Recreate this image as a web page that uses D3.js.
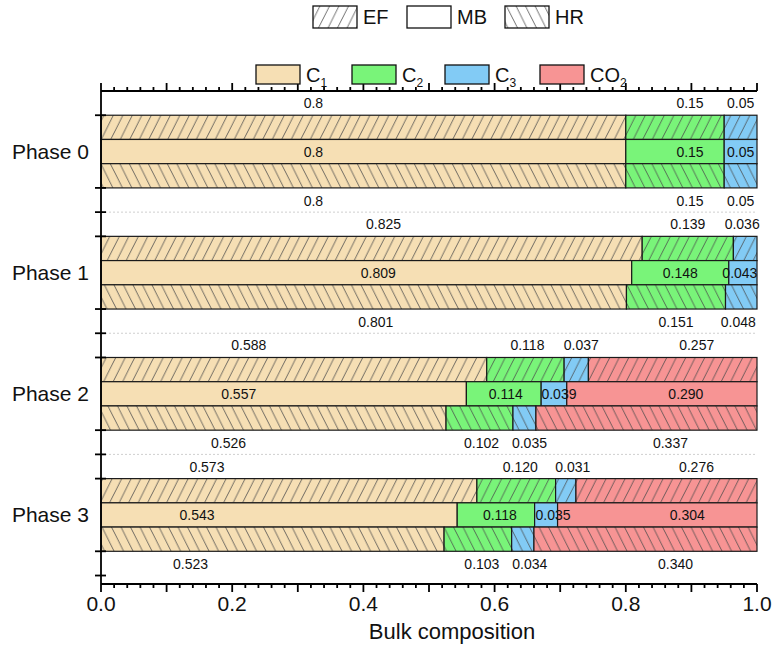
<!DOCTYPE html>
<html>
<head>
<meta charset="utf-8">
<script src="https://cdn.jsdelivr.net/npm/d3@7"></script>
<style>
  html, body { margin: 0; padding: 0; background: #fff; }
  svg { display: block; font-family: "Liberation Sans", Arial, sans-serif; }
</style>
</head>
<body>
<svg id="chart" width="774" height="648"></svg>
<script>
// ---- data ----
const phases = ["Phase 0", "Phase 1", "Phase 2", "Phase 3"];
const methods = ["EF", "MB", "HR"];
const species = ["C1", "C2", "C3", "CO2"];
// fractions per phase, in species order C1, C2, C3, CO2
const efValues = [
  [0.8, 0.15, 0.05, 0],
  [0.825, 0.139, 0.036, 0],
  [0.588, 0.118, 0.037, 0.257],
  [0.573, 0.120, 0.031, 0.276]
];
const mbValues = [
  [0.8, 0.15, 0.05, 0],
  [0.809, 0.148, 0.043, 0],
  [0.557, 0.114, 0.039, 0.290],
  [0.543, 0.118, 0.035, 0.304]
];
const hrValues = [
  [0.8, 0.15, 0.05, 0],
  [0.801, 0.151, 0.048, 0],
  [0.526, 0.102, 0.035, 0.337],
  [0.523, 0.103, 0.034, 0.340]
];
const xTickLabels = ["0.0", "0.2", "0.4", "0.6", "0.8", "1.0"];

// ---- styles / layout ----
const colors = { C1: "#F6DFB4", C2: "#79F479", C3: "#82CBF5", CO2: "#F79494" };
const hatchStroke = "#4a4a4a";
const axisColor = "#000";
const axisWidth = 1.8;
// horizontal label nudges in px, [phase][species]
const labelDx = [
  [-50, 15, 0, 0],
  [12, 0, -3, 0],
  [-45, 2, 5, 24],
  [-82, 4, 7, 30]
];

const svg = d3.select("#chart");
const x = d3.scaleLinear().domain([0, 1]).range([101, 757]);
const y = d3.scaleLinear().domain([-0.5, 3.57]).range([91, 584]);
const barH = 0.2;

// ---- hatch patterns ----
const defs = svg.append("defs");
function hatch(id, fill, dir) {
  const W = 9.5, H = 19;
  const p = defs.append("pattern").attr("id", id)
    .attr("patternUnits", "userSpaceOnUse")
    .attr("width", W).attr("height", H);
  p.append("rect").attr("width", W).attr("height", H).attr("fill", fill);
  const segs = dir === "EF"
    ? [[0, H, W, 0], [-W, H, 0, 0], [W, H, 2 * W, 0]]
    : [[0, 0, W, H], [-W, 0, 0, H], [W, 0, 2 * W, H]];
  segs.forEach(s => p.append("line")
    .attr("x1", s[0]).attr("y1", s[1]).attr("x2", s[2]).attr("y2", s[3])
    .attr("stroke", hatchStroke).attr("stroke-width", 0.8));
}
species.forEach(s => { hatch("EF-" + s, colors[s], "EF"); hatch("HR-" + s, colors[s], "HR"); });
hatch("EF-legend", "#fff", "EF");
hatch("HR-legend", "#fff", "HR");

function fillFor(method, sp) {
  if (method === "MB") return colors[sp];
  return "url(#" + method + "-" + sp + ")";
}

// ---- phase separators ----
svg.append("g").selectAll("line").data([0.5, 1.5, 2.5]).join("line")
  .attr("x1", x(0)).attr("x2", x(1))
  .attr("y1", d => y(d)).attr("y2", d => y(d))
  .attr("stroke", "#cfcfcf").attr("stroke-width", 1)
  .attr("stroke-dasharray", "2,2");

// ---- bars ----
const methodValues = { EF: efValues, MB: mbValues, HR: hrValues };
const segments = [];
phases.forEach((ph, i) => {
  methods.forEach((m, j) => {
    let acc = 0;
    methodValues[m][i].forEach((v, k) => {
      if (v > 0) {
        segments.push({ phase: i, method: m, row: j, sp: species[k], x0: acc, v: v });
      }
      acc += v;
    });
  });
});

svg.append("g").selectAll("rect").data(segments).join("rect")
  .attr("x", d => x(d.x0))
  .attr("width", d => x(d.x0 + d.v) - x(d.x0))
  .attr("y", d => y(d.phase - 0.3 + d.row * barH))
  .attr("height", d => y(barH) - y(0))
  .attr("fill", d => fillFor(d.method, d.sp))
  .attr("stroke", "#1a1a1a").attr("stroke-width", 1.2);

// ---- value labels ----
function fmt(phase, v) { return phase === 0 ? String(v) : v.toFixed(3); }
svg.append("g").selectAll("text").data(segments).join("text")
  .attr("x", d => x(d.x0 + d.v / 2) + labelDx[d.phase][species.indexOf(d.sp)])
  .attr("y", d => {
    if (d.method === "EF") return y(d.phase - 0.3) - 12;
    if (d.method === "HR") return y(d.phase + 0.3) + 13;
    return y(d.phase);
  })
  .attr("text-anchor", "middle").attr("dominant-baseline", "central")
  .attr("font-size", 14).attr("fill", "#111")
  .text(d => fmt(d.phase, d.v));

// ---- axes ----
const majors = d3.range(0, 11).map(i => i / 10);
const minors = d3.range(0, 51).filter(i => i % 5 !== 0).map(i => i / 50);

// horizontal axis line with outward ticks (dir = -1 up, +1 down)
function hAxis(yPos, dir) {
  const g = svg.append("g");
  g.append("line").attr("x1", x(0)).attr("x2", x(1))
    .attr("y1", yPos).attr("y2", yPos)
    .attr("stroke", axisColor).attr("stroke-width", axisWidth);
  g.selectAll("line.major").data(majors).join("line").attr("class", "major")
    .attr("x1", d => x(d)).attr("x2", d => x(d))
    .attr("y1", yPos).attr("y2", yPos + dir * 8)
    .attr("stroke", axisColor).attr("stroke-width", axisWidth);
  g.selectAll("line.minor").data(minors).join("line").attr("class", "minor")
    .attr("x1", d => x(d)).attr("x2", d => x(d))
    .attr("y1", yPos).attr("y2", yPos + dir * 4)
    .attr("stroke", axisColor).attr("stroke-width", axisWidth);
  return g;
}

const topY = y(-0.5);
const bottomY = y(3.57);
hAxis(topY, -1);
const bottomAxis = hAxis(bottomY, 1);
bottomAxis.selectAll("text").data(xTickLabels).join("text")
  .attr("x", (d, i) => x(i * 0.2)).attr("y", bottomY + 19)
  .attr("text-anchor", "middle").attr("dominant-baseline", "central")
  .attr("font-size", 21).attr("fill", "#111")
  .text(d => d);

// left
const yTicks = [];
phases.forEach((p, i) => { yTicks.push(i - 0.3, i + 0.3, i + 0.5); });
const leftG = svg.append("g");
leftG.append("line").attr("x1", x(0)).attr("x2", x(0))
  .attr("y1", topY).attr("y2", bottomY)
  .attr("stroke", axisColor).attr("stroke-width", axisWidth);
leftG.selectAll("line.tick").data(yTicks).join("line").attr("class", "tick")
  .attr("x1", x(0) - 6).attr("x2", x(0) + 5)
  .attr("y1", d => y(d)).attr("y2", d => y(d))
  .attr("stroke", axisColor).attr("stroke-width", axisWidth);

// phase labels
svg.append("g").selectAll("text").data(phases).join("text")
  .attr("x", 89).attr("y", (d, i) => y(i))
  .attr("text-anchor", "end").attr("dominant-baseline", "central")
  .attr("font-size", 21).attr("fill", "#111")
  .text(d => d);

// axis title
svg.append("text")
  .attr("x", 452).attr("y", 639)
  .attr("text-anchor", "middle").attr("font-size", 22).attr("fill", "#111")
  .text("Bulk composition");

// ---- legends ----
const legend1 = svg.append("g");
const methodLegend = [
  { key: "EF", bx: 313, fill: "url(#EF-legend)" },
  { key: "MB", bx: 407, fill: "#fff" },
  { key: "HR", bx: 505, fill: "url(#HR-legend)" }
];
methodLegend.forEach(d => {
  legend1.append("rect").attr("x", d.bx).attr("y", 6).attr("width", 44).attr("height", 22)
    .attr("fill", d.fill).attr("stroke", "#111").attr("stroke-width", 1.3);
  legend1.append("text").attr("x", d.bx + 50).attr("y", 17)
    .attr("dominant-baseline", "central").attr("font-size", 20).attr("fill", "#111")
    .text(d.key);
});

const legend2 = svg.append("g");
const speciesLegend = [
  { sp: "C1", base: "C", sub: "1", bx: 256 },
  { sp: "C2", base: "C", sub: "2", bx: 352 },
  { sp: "C3", base: "C", sub: "3", bx: 445 },
  { sp: "CO2", base: "CO", sub: "2", bx: 540 }
];
speciesLegend.forEach(d => {
  legend2.append("rect").attr("x", d.bx).attr("y", 65).attr("width", 44).attr("height", 19)
    .attr("fill", colors[d.sp]).attr("stroke", "#111").attr("stroke-width", 1.3);
  const t = legend2.append("text").attr("x", d.bx + 50).attr("y", 82)
    .attr("font-size", 20).attr("fill", "#111");
  t.append("tspan").text(d.base);
  t.append("tspan").attr("font-size", 12).attr("dy", 5).text(d.sub);
});
</script>
</body>
</html>
